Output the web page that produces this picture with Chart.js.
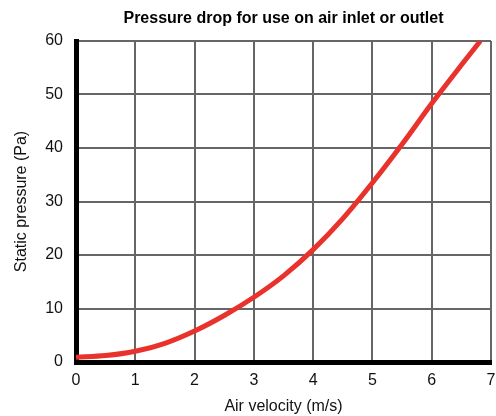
<!DOCTYPE html>
<html>
<head>
<meta charset="utf-8">
<script src="https://cdn.jsdelivr.net/npm/chart.js@4"></script>
<style>
  html, body { margin: 0; padding: 0; background: #fff; }
  #wrap { width: 496px; height: 416px; }
</style>
</head>
<body>
<div id="wrap"><canvas id="c" width="496" height="416"></canvas></div>
<script>
const chartTitle = 'Pressure drop for use on air inlet or outlet';
const xTitle = 'Air velocity (m/s)';
const yTitle = 'Static pressure (Pa)';
const velocity = [0, 0.5, 1, 1.5, 2, 2.5, 3, 3.5, 4, 4.5, 5, 5.5, 6, 6.5, 6.82];
const pressure = [0.9, 1.2, 2.0, 3.5, 5.8, 8.7, 12.1, 16.1, 21.0, 26.8, 33.5, 40.7, 48.3, 55.5, 60];
const xTickValues = [0, 1, 2, 3, 4, 5, 6, 7];
const yTickValues = [0, 10, 20, 30, 40, 50, 60];

const FONT = "'Liberation Sans', Arial, Helvetica, sans-serif";

const titlePlugin = {
  id: 'areaTitle',
  afterDraw(chart) {
    const ctx = chart.ctx;
    const a = chart.chartArea;
    ctx.save();
    ctx.font = 'bold 16px ' + FONT;
    ctx.fillStyle = '#000';
    ctx.textAlign = 'center';
    ctx.textBaseline = 'middle';
    ctx.fillText(chartTitle, (a.left + a.right) / 2, 19);
    ctx.restore();
  }
};

new Chart(document.getElementById('c'), {
  type: 'line',
  data: {
    datasets: [{
      data: velocity.map((v, i) => ({ x: v, y: pressure[i] })),
      borderColor: '#e8322b',
      borderWidth: 5,
      pointRadius: 0,
      fill: false,
      cubicInterpolationMode: 'monotone'
    }]
  },
  options: {
    responsive: false,
    animation: false,
    layout: { padding: { top: 41, right: 5, bottom: 0, left: 12 } },
    plugins: { legend: { display: false }, title: { display: false }, tooltip: { enabled: false } },
    scales: {
      x: {
        type: 'linear',
        min: 0, max: 7,
        afterBuildTicks(s) { s.ticks = xTickValues.map(v => ({ value: v })); },
        afterFit(s) { s.height = 54; s.paddingRight = 0; s.paddingLeft = 0; },
        grid: { color: '#666', lineWidth: 2, drawTicks: false },
        border: { color: '#000', width: 5 },
        ticks: { color: '#111', font: { family: FONT, size: 16 }, padding: 9, maxRotation: 0 },
        title: { display: true, text: xTitle, color: '#111', font: { family: FONT, size: 16 }, padding: { top: 0, bottom: 0 } }
      },
      y: {
        min: 0, max: 60,
        afterBuildTicks(s) { s.ticks = yTickValues.map(v => ({ value: v })); },
        afterFit(s) { s.width = 64; },
        grid: { color: '#666', lineWidth: 2, drawTicks: false },
        border: { color: '#000', width: 5 },
        ticks: { color: '#111', font: { family: FONT, size: 16 }, padding: 13 },
        title: { display: true, text: yTitle, color: '#111', font: { family: FONT, size: 16 }, padding: { top: 0, bottom: 0 } }
      }
    }
  },
  plugins: [titlePlugin]
});
</script>
</body>
</html>
